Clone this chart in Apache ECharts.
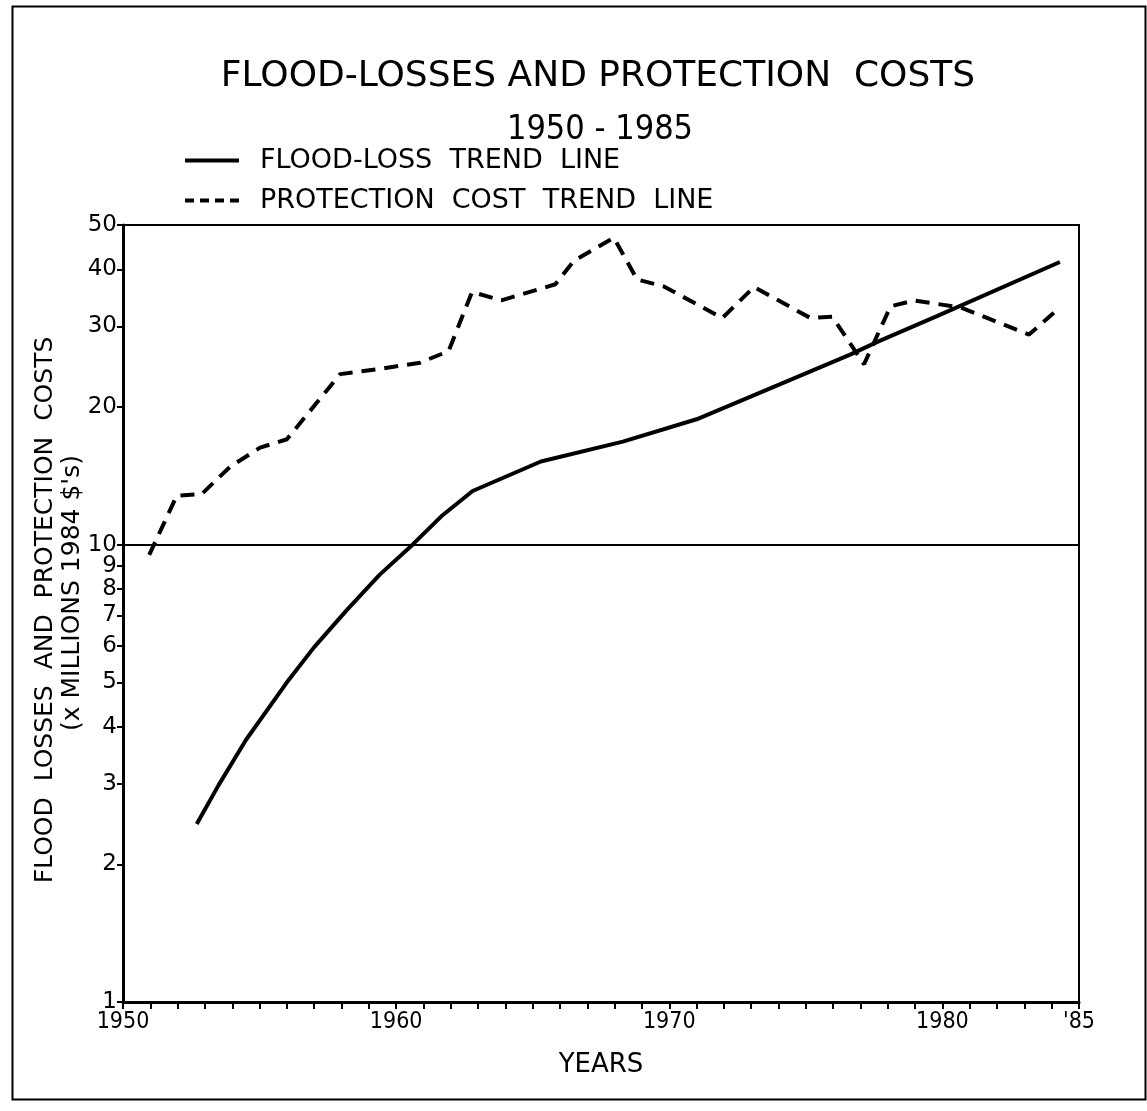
<!DOCTYPE html>
<html>
<head>
<meta charset="utf-8">
<script src="https://cdn.jsdelivr.net/npm/echarts@6/dist/echarts.min.js"></script>
<style>
  html, body { margin: 0; padding: 0; background: #fff; }
  #main { width: 1147px; height: 1111px; }
</style>
</head>
<body>
<div id="main"></div>
<script>
// flood-loss trend line (years, x millions 1984 $)
var lossYears = [1952.7, 1953.5, 1954.5, 1956.0, 1957.0, 1958.2, 1959.4, 1960.6, 1961.7, 1962.8, 1965.3, 1968.3, 1971.0, 1973.0, 1976.6, 1977.7, 1979.8, 1984.3];
var lossValues = [2.45, 2.98, 3.74, 5.0, 5.97, 7.2, 8.6, 10.0, 11.6, 13.1, 15.2, 16.8, 18.8, 21.1, 26.0, 27.9, 31.6, 41.5];

// protection cost trend line
var costYears = [1950.96, 1951.97, 1952.88, 1953.92, 1955.02, 1956.0, 1957.95, 1958.44, 1959.54, 1960.88, 1961.92, 1962.78, 1963.85, 1965.83, 1966.5, 1967.97, 1968.82, 1969.8, 1971.94, 1973.1, 1975.17, 1975.97, 1977.13, 1978.1, 1978.96, 1980.67, 1983.17, 1984.15];
var costValues = [9.5, 12.8, 12.9, 14.8, 16.3, 17.0, 23.6, 23.8, 24.3, 25.0, 26.5, 35.7, 34.2, 37.1, 41.7, 46.9, 38.0, 36.7, 31.3, 36.6, 31.3, 31.5, 24.8, 33.2, 34.2, 33.0, 28.8, 32.4];

var yTickValues = [1, 2, 3, 4, 5, 6, 7, 8, 9, 10, 20, 30, 40, 50];
var xLabelYears = [1950, 1960, 1970, 1980, 1985];

function zip(xs, ys) {
  return xs.map(function (x, i) { return [x, ys[i]]; });
}

var font = 'DejaVu Sans';
var chart = echarts.init(document.getElementById('main'));

var option = {
  backgroundColor: '#fff',
  animation: false,
  title: [{
    text: 'FLOOD-LOSSES AND PROTECTION  COSTS',
    left: 593, top: 54, textAlign: 'center',
    textStyle: { fontFamily: font, fontSize: 36, fontWeight: 'normal', color: '#000' }
  }, {
    text: '1950 - 1985',
    left: 595, top: 108, textAlign: 'center',
    textStyle: { fontFamily: 'DejaVu Sans Condensed', fontSize: 34, fontWeight: 'normal', color: '#000' }
  }],
  legend: {
    left: 178, top: 142,
    orient: 'vertical',
    itemWidth: 54, itemHeight: 14,
    itemGap: 13,
    itemStyle: { opacity: 0 },
    lineStyle: { width: 4, color: '#000' },
    textStyle: { fontFamily: font, fontSize: 27, color: '#000', padding: [0, 0, 0, 16] },
    data: [
      { name: 'FLOOD-LOSS  TREND  LINE' },
      { name: 'PROTECTION  COST  TREND  LINE', lineStyle: { width: 4, color: '#000', type: [9, 6] } }
    ]
  },
  grid: {
    left: 123, right: 68, top: 225, bottom: 109,
    show: true, borderColor: '#000', borderWidth: 2
  },
  xAxis: {
    type: 'value', min: 1950, max: 1985, interval: 1,
    name: 'YEARS', nameLocation: 'middle', nameGap: 50,
    nameTextStyle: { fontFamily: font, fontSize: 26, color: '#000' },
    axisLine: { lineStyle: { color: '#000', width: 3 } },
    axisTick: { show: true, inside: false, length: 7, lineStyle: { color: '#000', width: 2 } },
    splitLine: { show: false },
    axisLabel: {
      fontFamily: 'DejaVu Sans Condensed', fontSize: 23, color: '#000', margin: 9,
      formatter: function (v) {
        if (xLabelYears.indexOf(v) < 0) return '';
        return v === 1985 ? "'85" : String(v);
      }
    }
  },
  yAxis: {
    type: 'log', logBase: 10, min: 1, max: 50,
    axisLine: { show: true, lineStyle: { color: '#000', width: 3 } },
    axisTick: { show: true, inside: false, length: 6, customValues: yTickValues, lineStyle: { color: '#000', width: 2 } },
    splitLine: { show: false },
    axisLabel: {
      fontFamily: font, fontSize: 23, color: '#000', margin: 6,
      customValues: yTickValues,
      formatter: function (v) { return String(Math.round(v)); }
    }
  },
  graphic: [{
    type: 'rect', left: 10, top: 4,
    shape: { width: 1133, height: 1093 },
    style: { fill: 'none', stroke: '#000', lineWidth: 2 }
  }, {
    type: 'text', x: 45, y: 610, rotation: Math.PI / 2,
    style: { text: 'FLOOD  LOSSES  AND  PROTECTION  COSTS', fontFamily: font, fontSize: 25, fill: '#000', align: 'center', verticalAlign: 'middle' }
  }, {
    type: 'text', x: 72, y: 593, rotation: Math.PI / 2,
    style: { text: "(x MILLIONS 1984 $'s)", fontFamily: font, fontSize: 25, fill: '#000', align: 'center', verticalAlign: 'middle' }
  }],
  series: [{
    name: 'FLOOD-LOSS  TREND  LINE',
    type: 'line',
    data: zip(lossYears, lossValues),
    showSymbol: false, symbol: 'none',
    lineStyle: { color: '#000', width: 4, type: 'solid' },
    itemStyle: { color: '#000' },
    markLine: {
      silent: true, symbol: 'none', label: { show: false },
      lineStyle: { color: '#000', width: 2, type: 'solid' },
      data: [{ yAxis: 10 }]
    }
  }, {
    name: 'PROTECTION  COST  TREND  LINE',
    type: 'line',
    data: zip(costYears, costValues),
    showSymbol: false, symbol: 'none',
    lineStyle: { color: '#000', width: 4, type: [14, 9] },
    itemStyle: { color: '#000' }
  }]
};

chart.setOption(option);
</script>
</body>
</html>
